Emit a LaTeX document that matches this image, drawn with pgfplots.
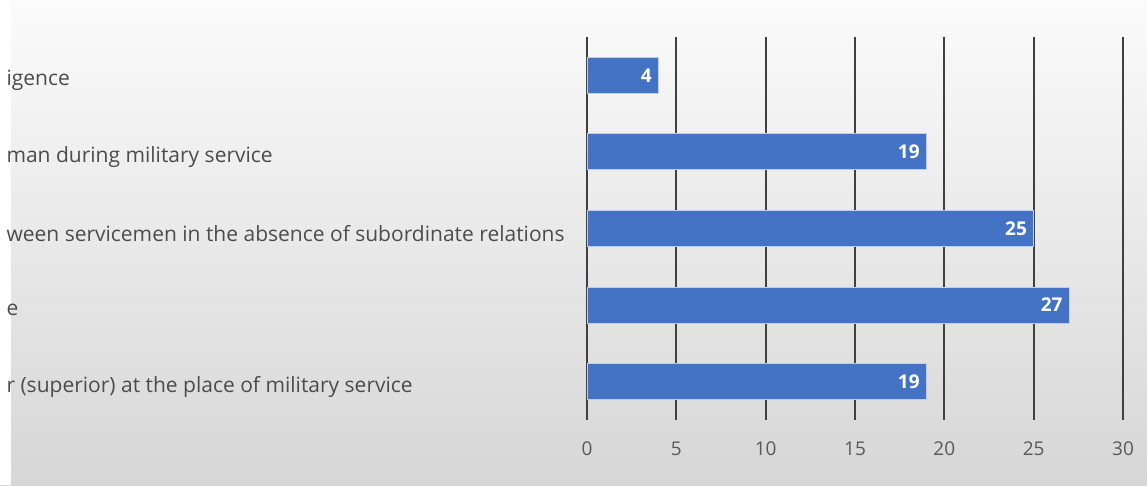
\documentclass[border=0pt]{standalone}
\usepackage{pgfplots}
\pgfplotsset{compat=1.18}
\usepackage{fontspec}
\setmainfont{Open Sans}
\definecolor{barblue}{HTML}{4472C4}
\definecolor{gridc}{HTML}{404040}
\definecolor{tickc}{HTML}{595959}
\begin{document}
\begin{tikzpicture}[x=1pt,y=1pt]
\shade[top color=gray!3, bottom color=gray!32] (0,0) rectangle (1147,485);
\fill[white] (0,0) rectangle (11,485);
\begin{axis}[
  at={(587pt,65pt)}, anchor=south west,
  scale only axis, width=536pt, height=383pt,
  xmin=0, xmax=30, ymin=0.5, ymax=5.5, y dir=reverse,
  axis line style={draw=none},
  /pgf/number format/assume math mode=true,
  xtick={0,5,...,30}, ytick={1,2,3,4,5},
  yticklabels={igence, man during military service, ween servicemen in the absence of subordinate relations, e, r (superior) at the place of military service},
  xmajorgrids, major grid style={gridc, line width=1.8pt},
  major tick length=0pt,
  xticklabel style={text=tickc, font=\fontsize{19}{22}\selectfont, yshift=-18pt},
  yticklabel style={anchor=west, xshift=-584pt, yshift=-5pt, text=tickc!85!black, font=\fontsize{21}{24}\selectfont},
  xbar, bar width=36pt,
  nodes near coords,
  nodes near coords style={anchor=east, xshift=-3pt, text=white, font=\bfseries\fontsize{19}{22}\selectfont},
]
\addplot[fill=barblue, draw=barblue!35!white, line width=1pt] coordinates {(4,1) (19,2) (25,3) (27,4) (19,5)};
\end{axis}
\end{tikzpicture}
\end{document}
